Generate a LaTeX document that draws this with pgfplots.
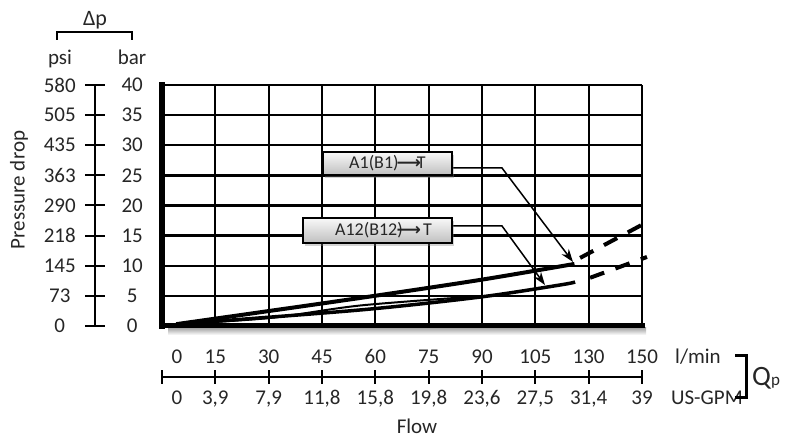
\documentclass[border=0pt]{standalone}
\usepackage{fontspec}
\setmainfont{Carlito}
\newfontfamily\djv{DejaVu Sans}
\usepackage{pgfplots}
\pgfplotsset{compat=1.18}
\usetikzlibrary{arrows.meta,shadows}
\definecolor{txt}{gray}{0.15}
\newcommand{\tf}{\fontsize{21}{24}\selectfont}
\begin{document}
\begin{tikzpicture}
\path[use as bounding box] (0,0) rectangle (793pt,438pt);

% shadow under the bottom frame line
\shade[top color=gray!70, bottom color=white] (168pt,103pt) rectangle (646pt,110pt);

% ---------- main grid with curves ----------
\begin{axis}[at={(162pt,112pt)}, anchor=south west, scale only axis,
  width=480pt, height=241pt,
  xmin=0, xmax=135, ymin=0, ymax=40,
  xtick={0,15,...,135}, ytick={0,5,...,40},
  xticklabels={}, yticklabels={},
  major tick length=0pt,
  grid=major, major grid style={black, line width=2.3pt},
  axis x line*=bottom, axis y line*=left,
  x axis line style={-, line width=5pt, line cap=rect},
  y axis line style={-, line width=5.5pt, line cap=rect},
  clip=false]
% A1(B1) -> T
\addplot[black, line width=4pt, smooth] coordinates {(4,0.3) (55.7,4.65) (89.4,7.64) (116,10.3)};
\addplot[black, line width=4pt, dash pattern=on 15pt off 12pt] coordinates {(117.6,11.3) (135,16.8)};
% A12(B12) -> T
\addplot[black, line width=2pt, smooth] coordinates {(4,0.3) (30.4,1.33) (55.7,3.4) (89.4,4.95)};
\addplot[black, line width=3.5pt, smooth] coordinates {(4,0.3) (55.7,2.66) (89.4,4.8) (111.9,6.8) (116.2,7.3)};
\addplot[black, line width=4pt, dash pattern=on 15pt off 12pt] coordinates {(120.4,8.0) (136.4,11.46)};
\end{axis}

% ---------- left scale: psi ----------
\begin{axis}[at={(95pt,112pt)}, anchor=south west, scale only axis,
  width=1pt, height=241pt, xmin=0, xmax=1, ymin=0, ymax=40,
  hide x axis, axis y line*=left, y axis line style={-, line width=2pt},
  ytick={0,5,...,40}, yticklabels={0,73,145,218,290,363,435,505,580},
  tick align=center, major tick length=20pt, tick style={black, line width=2pt},
  yticklabel style={font=\tf, text=txt, inner sep=0pt, text width=50pt, align=center, anchor=east}]
\end{axis}
% ---------- left scale: bar ----------
\begin{axis}[at={(106pt,112pt)}, anchor=south west, scale only axis,
  width=1pt, height=241pt, xmin=0, xmax=1, ymin=0, ymax=40,
  hide x axis, axis y line*=right, yticklabel pos=right, y axis line style={draw=none},
  ytick={0,5,...,40}, yticklabels={0,5,10,15,20,25,30,35,40},
  major tick length=0pt,
  yticklabel style={font=\tf, text=txt, inner sep=0pt, text width=50pt, align=center, anchor=west}]
\end{axis}

% ---------- flow scale line ----------
\begin{axis}[at={(162pt,61pt)}, anchor=south west, scale only axis,
  width=480pt, height=1pt, xmin=0, xmax=9, ymin=0, ymax=1,
  hide y axis, axis x line*=bottom, x axis line style={-, line width=2pt},
  xtick={0,1,2,3,4,5,6,7,8,9}, xticklabels={},
  tick align=center, major tick length=14pt, tick style={black, line width=2pt}]
\end{axis}
% top labels l/min
\begin{axis}[at={(162pt,61pt)}, anchor=south west, scale only axis,
  width=480pt, height=1pt, xmin=0, xmax=9, ymin=0, ymax=1,
  hide y axis, axis x line*=top, xticklabel pos=top, x axis line style={draw=none},
  major tick length=0pt,
  xtick={0.28,1,2,3,4,5,6,7,8,9},
  xticklabels={0,15,30,45,60,75,90,105,130,150},
  xticklabel style={font=\tf, text=txt, inner sep=0pt, anchor=base, yshift=12pt}]
\end{axis}
% bottom labels US-GPM
\begin{axis}[at={(162pt,61pt)}, anchor=south west, scale only axis,
  width=480pt, height=1pt, xmin=0, xmax=9, ymin=0, ymax=1,
  hide y axis, axis x line*=bottom, xticklabel pos=bottom, x axis line style={draw=none},
  major tick length=0pt,
  xtick={0.28,1,2,3,4,5,6,7,8,9},
  xticklabels={0,{3,9},{7,9},{11,8},{15,8},{19,8},{23,6},{27,5},{31,4},39},
  xticklabel style={font=\tf, text=txt, inner sep=0pt, anchor=base, yshift=-27.7pt}]
\end{axis}

% ---------- annotations ----------
\draw[line width=1.5pt, -{Stealth[length=13pt,width=9pt]}] (452pt,270pt) -- (502pt,270pt) -- (573pt,176pt);
\draw[line width=1.5pt, -{Stealth[length=13pt,width=9pt]}] (452pt,212pt) -- (502pt,212pt) -- (545pt,153pt);
\node[draw=black, line width=1.5pt, top color=gray!5, bottom color=gray!50,
  drop shadow={shadow xshift=2pt, shadow yshift=-3pt, opacity=0.35},
  minimum width=129pt, minimum height=23pt, inner sep=0pt,
  font=\fontsize{18}{20}\selectfont, text=txt] at (387.5pt,274.5pt)
  {A1(B1)\kern-2pt{\djv\bfseries\fontsize{17}{20}\selectfont ⟶}\kern-4pt T};
\node[draw=black, line width=1.5pt, top color=gray!5, bottom color=gray!50,
  drop shadow={shadow xshift=2pt, shadow yshift=-3pt, opacity=0.35},
  minimum width=149pt, minimum height=25pt, inner sep=0pt,
  font=\fontsize{18}{20}\selectfont, text=txt] at (377.5pt,207.5pt)
  {\hspace*{12pt}A12(B12)\kern-6pt{\djv\bfseries\fontsize{17}{20}\selectfont ⟶}\kern2pt T};

% ---------- texts ----------
\node[rotate=90, font=\tf, text=txt] at (19pt,248pt) {Pressure drop};
\node[anchor=base, font=\tf, text=txt, inner sep=0pt] at (60pt,373pt) {psi};
\node[anchor=base, font=\tf, text=txt, inner sep=0pt] at (132pt,373pt) {bar};
\draw[line width=2pt] (57pt,398pt) -- (57pt,406pt) -- (132pt,406pt) -- (132pt,398pt);
\node[anchor=base, font=\fontsize{22}{24}\selectfont, text=txt, inner sep=0pt] at (95pt,412pt) {Δp};

\node[anchor=base, font=\tf, text=txt, inner sep=0pt] at (698pt,74pt) {l/min};
\begin{scope}
\clip (660pt,20pt) rectangle (741pt,60pt);
\node[anchor=base west, font=\tf, text=txt, inner sep=0pt] at (671pt,33.3pt) {US-GPM};
\end{scope}
\draw[line width=3pt] (735pt,82pt) -- (746pt,82pt) -- (746pt,40pt) -- (735pt,40pt);
\node[anchor=base west, inner sep=0pt, text=txt] at (752pt,52pt) {{\fontsize{28}{30}\selectfont Q}{\fontsize{17}{20}\selectfont p}};
\node[anchor=base, font=\tf, text=txt, inner sep=0pt] at (417pt,4.5pt) {Flow};
\end{tikzpicture}
\end{document}
